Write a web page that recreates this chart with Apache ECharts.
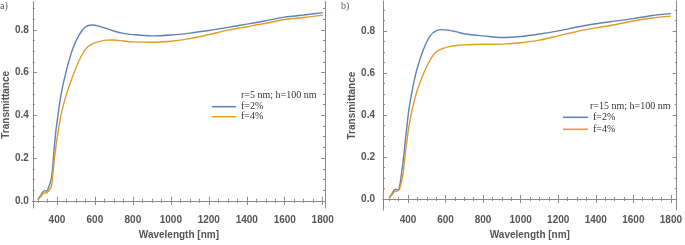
<!DOCTYPE html>
<html>
<head>
<meta charset="utf-8">
<script src="https://cdn.jsdelivr.net/npm/echarts@6/dist/echarts.min.js"></script>
<style>
  html, body { margin: 0; padding: 0; background: #fff; }
  #chart { width: 685px; height: 245px; }
</style>
</head>
<body>
<div id="chart"></div>
<script>
// wavelengths (nm) shared by every curve
const wavelengths = [300, 315, 325, 334, 345, 355, 370, 378, 386, 395, 404, 421, 447, 482, 517, 551,
  586, 621, 660, 700, 750, 800, 900, 1000, 1100, 1200, 1300, 1400, 1500, 1600, 1700, 1800];

// panel a) r=5 nm
const aF2 = [0.006, 0.025, 0.04, 0.048, 0.045, 0.06, 0.10, 0.16, 0.25, 0.33, 0.39, 0.494, 0.60, 0.708, 0.777, 0.815,
  0.823, 0.818, 0.807, 0.795, 0.784, 0.778, 0.772, 0.776, 0.785, 0.797, 0.812, 0.827, 0.843, 0.860, 0.870, 0.881];
const aF4 = [0.005, 0.02, 0.032, 0.037, 0.037, 0.045, 0.065, 0.12, 0.19, 0.255, 0.31, 0.40, 0.49, 0.58, 0.657, 0.71,
  0.735, 0.745, 0.752, 0.753, 0.748, 0.744, 0.742, 0.747, 0.759, 0.778, 0.799, 0.815, 0.831, 0.849, 0.858, 0.869];

// panel b) r=15 nm
const bF2 = [0.005, 0.025, 0.04, 0.046, 0.043, 0.06, 0.15, 0.21, 0.28, 0.35, 0.42, 0.51, 0.615, 0.71, 0.775, 0.801,
  0.806, 0.802, 0.795, 0.786, 0.78, 0.776, 0.768, 0.773, 0.785, 0.80, 0.818, 0.834, 0.846, 0.858, 0.873, 0.882];
const bF4 = [0.004, 0.02, 0.032, 0.036, 0.038, 0.046, 0.10, 0.15, 0.22, 0.28, 0.34, 0.42, 0.51, 0.595, 0.66, 0.70,
  0.716, 0.725, 0.73, 0.733, 0.735, 0.736, 0.737, 0.743, 0.756, 0.776, 0.797, 0.814, 0.829, 0.847, 0.861, 0.870];

// ticks
const xMajor = [400, 600, 800, 1000, 1200, 1400, 1600, 1800];
const xMinor = [300, 350, 450, 500, 550, 650, 700, 750, 850, 900, 950, 1050, 1100, 1150,
  1250, 1300, 1350, 1450, 1500, 1550, 1650, 1700, 1750];
const yMajor = [0, 0.2, 0.4, 0.6, 0.8];
const yMinor = [0.05, 0.1, 0.15, 0.25, 0.3, 0.35, 0.45, 0.5, 0.55, 0.65, 0.7, 0.75, 0.85, 0.9];

const legendNames = ['f=2%', 'f=4%'];
const BLUE = '#5e81b5';
const ORANGE = '#e19c24';
const FRAME = '#8a8a8a';
const LABEL = '#555';

const pair = (xs, ys) => xs.map((x, i) => [x, ys[i]]);

// one panel = a frame with ticks on all four sides (major + minor axes)
function panelAxes(g, p) {
  const line = { show: true, lineStyle: { color: FRAME, width: 1 } };
  const tickStyle = { color: FRAME, width: 1 };
  const xs = [], ys = [];
  ['bottom', 'top'].forEach(pos => {
    xs.push({
      gridIndex: g, type: 'value', position: pos, min: p.xMin, max: p.xMax,
      axisLine: line, splitLine: { show: false },
      axisTick: { inside: true, length: 4, lineStyle: tickStyle, customValues: xMajor },
      axisLabel: pos === 'bottom'
        ? { customValues: xMajor, formatter: v => String(v), color: LABEL, fontWeight: 'bold', fontSize: 10, fontFamily: 'Liberation Sans', margin: p.xMargin }
        : { show: false },
      name: pos === 'bottom' ? 'Wavelength [nm]' : '',
      nameLocation: 'middle', nameGap: p.xNameGap,
      nameTextStyle: { color: LABEL, fontWeight: 'bold', fontSize: 10, fontFamily: 'Liberation Sans' }
    });
    xs.push({
      gridIndex: g, type: 'value', position: pos, min: p.xMin, max: p.xMax,
      axisLine: { show: false }, splitLine: { show: false }, axisLabel: { show: false },
      axisTick: { inside: true, length: 2, lineStyle: tickStyle, customValues: xMinor }
    });
  });
  ['left', 'right'].forEach(pos => {
    ys.push({
      gridIndex: g, type: 'value', position: pos, min: p.yMin, max: p.yMax,
      axisLine: line, splitLine: { show: false },
      axisTick: { inside: true, length: 4, lineStyle: tickStyle, customValues: yMajor },
      axisLabel: pos === 'left'
        ? { customValues: yMajor, formatter: v => v.toFixed(1), color: LABEL, fontWeight: 'bold', fontSize: 10, fontFamily: 'Liberation Sans', margin: p.yMargin }
        : { show: false },
      name: pos === 'left' ? 'Transmittance' : '',
      nameLocation: 'middle', nameGap: p.yNameGap, nameRotate: 90,
      nameTextStyle: { color: LABEL, fontWeight: 'bold', fontSize: 10, fontFamily: 'Liberation Sans' }
    });
    ys.push({
      gridIndex: g, type: 'value', position: pos, min: p.yMin, max: p.yMax,
      axisLine: { show: false }, splitLine: { show: false }, axisLabel: { show: false },
      axisTick: { inside: true, length: 2, lineStyle: tickStyle, customValues: yMinor }
    });
  });
  return { xs, ys };
}

const pa = panelAxes(0, { xMin: 273, xMax: 1812, yMin: -0.034, yMax: 0.933, xMargin: 7, xNameGap: 20, yMargin: 4, yNameGap: 20 });
const pb = panelAxes(1, { xMin: 267, xMax: 1831, yMin: -0.053, yMax: 0.942, xMargin: 5, xNameGap: 14, yMargin: 8, yNameGap: 20 });

const serif = { fontFamily: 'Liberation Serif', fontSize: 10, color: '#333', fontWeight: 'normal' };

function curve(name, xi, yi, data, color) {
  return {
    name, type: 'line', xAxisIndex: xi, yAxisIndex: yi, data,
    smooth: 0.3, symbol: 'none', lineStyle: { color, width: 1.4 }, itemStyle: { color }
  };
}

const chart = echarts.init(document.getElementById('chart'), null, { renderer: 'canvas' });
chart.setOption({
  animation: false,
  backgroundColor: '#fff',
  title: [
    { text: 'a)', left: 0, top: 1, padding: 0, textStyle: { ...serif, color: '#555' } },
    { text: 'b)', left: 341, top: 1, padding: 0, textStyle: { ...serif, color: '#555' } },
    { text: 'r=5 nm; h=100 nm', left: 241, top: 90, padding: 0, textStyle: serif },
    { text: 'r=15 nm; h=100 nm', left: 590, top: 101, padding: 0, textStyle: serif }
  ],
  legend: [
    { data: legendNames, orient: 'vertical', left: 212, top: 101.7, padding: 0, icon: 'rect',
      itemWidth: 24, itemHeight: 1.5, itemGap: 0,
      textStyle: { ...serif, lineHeight: 10 }, selectedMode: false },
    { data: legendNames, orient: 'vertical', left: 563, top: 111.3, padding: 0, icon: 'rect',
      itemWidth: 25, itemHeight: 1.5, itemGap: 0,
      textStyle: { ...serif, lineHeight: 12 }, selectedMode: false }
  ],
  grid: [
    { left: 30, top: 1.5, width: 295, height: 210.5 },
    { left: 383, top: 1, width: 298, height: 217 }
  ],
  xAxis: [...pa.xs, ...pb.xs],
  yAxis: [...pa.ys, ...pb.ys],
  series: [
    curve('f=2%', 0, 0, pair(wavelengths, aF2), BLUE),
    curve('f=4%', 0, 0, pair(wavelengths, aF4), ORANGE),
    curve('f=2%', 4, 4, pair(wavelengths, bF2), BLUE),
    curve('f=4%', 4, 4, pair(wavelengths, bF4), ORANGE)
  ]
});
</script>
</body>
</html>
